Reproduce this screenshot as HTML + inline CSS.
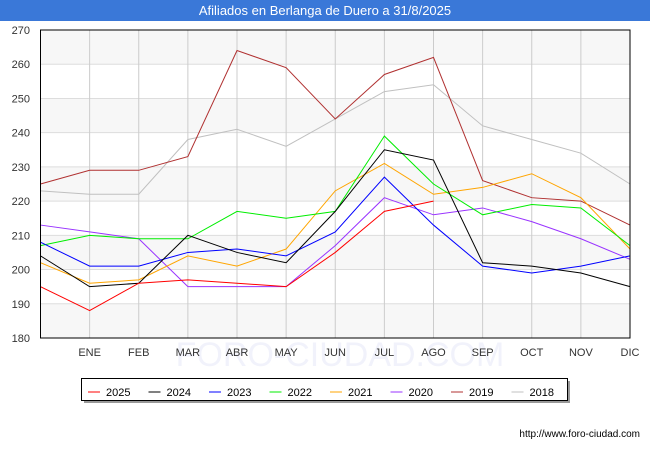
<!DOCTYPE html>
<html><head><meta charset="utf-8"><style>
body{margin:0;width:650px;height:450px;background:#fff;font-family:"Liberation Sans",sans-serif;overflow:hidden}
#title{position:absolute;left:0;top:0;width:650px;height:21px;background:#3a78d8;color:#fff;font-size:13px;text-align:center;line-height:21px}
</style></head><body>
<div id="title">Afiliados en Berlanga de Duero a 31/8/2025</div>
<svg id="c" width="650" height="450" style="position:absolute;left:0;top:0"></svg>
<script>
const months=["","ENE","FEB","MAR","ABR","MAY","JUN","JUL","AGO","SEP","OCT","NOV","DIC"];
const yTicks=[180,190,200,210,220,230,240,250,260,270];
const seriesNames=["2025","2024","2023","2022","2021","2020","2019","2018"];
const colors=["#ff0000","#000000","#0000ff","#00ee00","#ffa500","#9933ff","#b03030","#c0c0c0"];
const s2025=[195,188,196,197,196,195,205,217,220];
const s2024=[204,195,196,210,205,202,217,235,232,202,201,199,195];
const s2023=[208,201,201,205,206,204,211,227,213,201,199,201,204];
const s2022=[207,210,209,209,217,215,217,239,225,216,219,218,207];
const s2021=[202,196,197,204,201,206,223,231,222,224,228,221,206];
const s2020=[213,211,209,195,195,195,207,221,216,218,214,209,203];
const s2019=[225,229,229,233,264,259,244,257,262,226,221,220,213];
const s2018=[223,222,222,238,241,236,244,252,254,242,238,234,225];
const all=[s2025,s2024,s2023,s2022,s2021,s2020,s2019,s2018];
const L=40.5,R=630,T=30,B=338,ymin=180,ymax=270;
const x=i=>L+(R-L)*i/12, y=v=>B-(v-ymin)*(B-T)/(ymax-ymin);
const svg=document.getElementById('c');const NS="http://www.w3.org/2000/svg";
function mk(t,a,p){const e=document.createElementNS(NS,t);for(const k in a)e.setAttribute(k,a[k]);(p||svg).appendChild(e);return e;}
const wm=mk('text',{x:340,y:366,'text-anchor':'middle','font-size':34,fill:'#f1f2fb'});wm.textContent="FORO-CIUDAD.COM";


for(let i=0;i<yTicks.length-1;i++){if((yTicks.length-2-i)%2==0){const b=mk('rect',{x:L,y:y(yTicks[i+1]),width:R-L,height:y(yTicks[i])-y(yTicks[i+1]),fill:'#f7f7f7'});

}}
yTicks.forEach(v=>{const l=mk('line',{x1:L,x2:R,y1:y(v),y2:y(v),stroke:'#dddddd'});


const t=mk('text',{x:30,y:y(v)+4,'text-anchor':'end','font-size':11,fill:'#333'});t.textContent=v;

});
months.forEach((m,i)=>{if(i>0){const l=mk('line',{x1:x(i),x2:x(i),y1:T,y2:B,stroke:'#cccccc'});

}
const t=mk('text',{x:x(i),y:356,'text-anchor':'middle','font-size':11,fill:'#333'});t.textContent=m;

});
for(let k=all.length-1;k>=0;k--){const p=mk('polyline',{points:all[k].map((v,i)=>x(i)+','+y(v)).join(' '),fill:'none',stroke:colors[k],'stroke-width':1});

}
const fr=mk('rect',{x:L,y:T,width:R-L,height:B-T,fill:'none',stroke:'#000'});


const sh=mk('rect',{x:84,y:381,width:486,height:22,fill:'#999'});


const lg=mk('rect',{x:81.5,y:378.5,width:486,height:22,fill:'#fff',stroke:'#000'});


seriesNames.forEach((n,k)=>{const lx=88+k*60.5;
const l=mk('line',{x1:lx,x2:lx+12,y1:392,y2:392,stroke:colors[k],'stroke-width':1});


const t=mk('text',{x:lx+18,y:396,'font-size':11,fill:'#000'});t.textContent=n;

});
const u=mk('text',{x:640,y:437,'text-anchor':'end','font-size':10,fill:'#000'});u.textContent="http://www.foro-ciudad.com";


</script>
</body></html>
